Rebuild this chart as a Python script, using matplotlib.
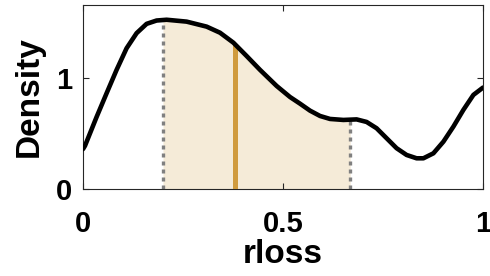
import numpy as np
import matplotlib
matplotlib.use("Agg")
import matplotlib.pyplot as plt

plt.rcParams['font.family'] = ['Liberation Sans', 'DejaVu Sans']
plt.rcParams['font.weight'] = 'bold'

# Density curve
x_vals = [0.0, 0.005, 0.034, 0.059, 0.084, 0.109, 0.134, 0.159, 0.184, 0.209,
          0.259, 0.309, 0.3425, 0.376, 0.409, 0.4425, 0.484, 0.5175, 0.5425,
          0.5675, 0.5925, 0.6175, 0.651, 0.684, 0.709, 0.734, 0.759, 0.784,
          0.809, 0.834, 0.851, 0.876, 0.901, 0.926, 0.951, 0.976, 1.0]
density = [0.36, 0.39, 0.65, 0.864, 1.075, 1.27, 1.406, 1.49, 1.52, 1.527,
           1.51, 1.465, 1.41, 1.32, 1.2, 1.075, 0.93, 0.83, 0.77,
           0.707, 0.659, 0.632, 0.623, 0.628, 0.605, 0.548, 0.458, 0.368,
           0.307, 0.277, 0.277, 0.322, 0.427, 0.563, 0.714, 0.849, 0.915]
ci_low = 0.2
ci_high = 0.668
median = 0.38

x_ticks = [0, 0.5, 1]
x_ticklabels = ['0', '0.5', '1']
y_ticks = [0, 1]
y_ticklabels = ['0', '1']

fig = plt.figure(figsize=(4.9, 2.76), dpi=100)
ax = fig.add_axes([83/490, 1 - 189/276, 400/490, 184/276])

x = np.array(x_vals)
y = np.array(density)
mask = (x >= ci_low) & (x <= ci_high)
xf = np.concatenate([[ci_low], x[mask], [ci_high]])
yf = np.concatenate([[np.interp(ci_low, x, y)], y[mask], [np.interp(ci_high, x, y)]])
ax.fill_between(xf, 0, yf, color='#f5ebd8', lw=0, zorder=1)

for xv in (ci_low, ci_high):
    ax.plot([xv, xv], [0, np.interp(xv, x, y)], color='#808080', lw=2.4,
            ls=(0, (1.2, 1.2)), zorder=2)
ax.plot([median, median], [0, np.interp(median, x, y)], color='#d09b3e', lw=3.6,
        solid_capstyle='butt', zorder=3)
ax.plot(x, y, color='black', lw=3.3, zorder=4, solid_capstyle='round',
        solid_joinstyle='round')

ax.set_xlim(0, 1)
ax.set_ylim(0, 1.66)
ax.set_xticks(x_ticks)
ax.set_xticklabels(x_ticklabels)
ax.set_yticks(y_ticks)
ax.set_yticklabels(y_ticklabels)
ax.tick_params(direction='in', length=4, width=0.8, color='#262626',
               top=True, right=True, labelsize=21)
ax.tick_params(axis='x', pad=15)
ax.tick_params(axis='y', pad=8)
for s in ax.spines.values():
    s.set_color('#262626')
    s.set_linewidth(0.8)
ax.set_xlabel('rloss', fontsize=24, fontweight='bold', labelpad=1)
ax.set_ylabel('Density', fontsize=24, fontweight='bold', labelpad=8)

fig.savefig('out.png', dpi=100)
